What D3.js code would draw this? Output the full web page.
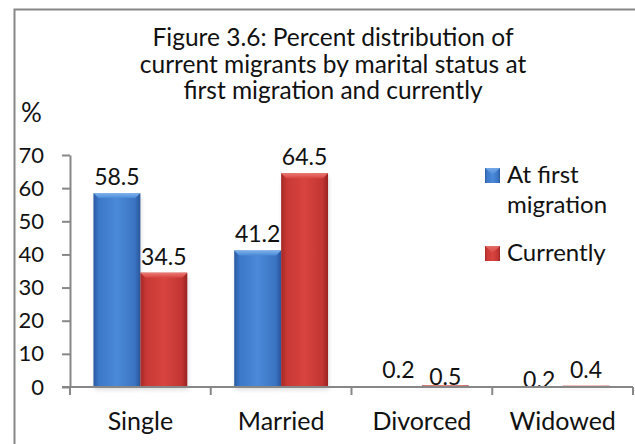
<!DOCTYPE html>
<html>
<head>
<meta charset="utf-8">
<script src="https://cdn.jsdelivr.net/npm/d3@7"></script>
<style>
  body { margin: 0; background: #fff; }
  #chart { width: 635px; height: 444px; }
  text { font-family: Lato, "Open Sans", sans-serif; fill: #111; }
</style>
</head>
<body>
<div id="chart"></div>
<script>
// chart values
var categories = ["Single", "Married", "Divorced", "Widowed"];
var seriesNames = ["At first migration", "Currently"];
var atFirstMigration = [58.5, 41.2, 0.2, 0.2];
var currently = [34.5, 64.5, 0.5, 0.4];
var yTicks = [0, 10, 20, 30, 40, 50, 60, 70];
var titleLines = [
    "Figure 3.6: Percent distribution of",
    "current migrants by marital status at",
    "first migration and currently"
];

// small vertical shifts of the value labels, as placed in the original
var labelNudge = [[0, 0], [0, 0], [0, 8], [10, 0]];

var width = 635;
var height = 444;
var margin = {top: 155, left: 70, right: 2, bottom: 57};

var svg = d3.select("#chart")
    .append("svg")
    .attr("width", width)
    .attr("height", height);

// gradients for the bevelled bars
var defs = svg.append("defs");
var palettes = {
    blue: ["#2a5aa2", "#3c78c8", "#4a8ad8", "#3a74c2", "#28559a"],
    red:  ["#a22826", "#c83835", "#d8443f", "#c23532", "#982322"]
};
Object.keys(palettes).forEach(function(k) {
    var g = defs.append("linearGradient").attr("id", "grad-" + k)
        .attr("x1", 0).attr("x2", 1).attr("y1", 0).attr("y2", 0);
    [0, 0.12, 0.5, 0.88, 1].forEach(function(o, i) {
        g.append("stop").attr("offset", o).attr("stop-color", palettes[k][i]);
    });
});
var tops = {blue: "#7fb2ec", red: "#ea7a74"};
Object.keys(tops).forEach(function(k) {
    var g = defs.append("linearGradient").attr("id", "top-" + k)
        .attr("x1", 0).attr("x2", 0).attr("y1", 0).attr("y2", 1);
    g.append("stop").attr("offset", 0).attr("stop-color", tops[k]);
    g.append("stop").attr("offset", 1).attr("stop-color", palettes[k][2]);
});
var shadow = defs.append("filter").attr("id", "blur")
    .attr("x", "-20%").attr("y", "-20%").attr("width", "140%").attr("height", "140%");
shadow.append("feGaussianBlur").attr("stdDeviation", 2);

// outer frame (right and bottom edges fall outside the picture)
svg.append("rect")
    .attr("x", 14.5).attr("y", 9.5)
    .attr("width", 640).attr("height", 460)
    .attr("fill", "none")
    .attr("stroke", "#878787")
    .attr("stroke-width", 2);

var data = categories.map(function(c, i) {
    return {category: c, values: [
        {series: seriesNames[0], key: "blue", value: atFirstMigration[i], nudge: labelNudge[i][0]},
        {series: seriesNames[1], key: "red", value: currently[i], nudge: labelNudge[i][1]}
    ]};
});

var xScale = d3.scaleBand()
    .domain(categories)
    .range([margin.left, width - margin.right]);

var bw = xScale.bandwidth();
var xInner = d3.scaleBand()
    .domain(seriesNames)
    .range([bw / 6, bw * 5 / 6]);

var yScale = d3.scaleLinear()
    .domain([0, 70])
    .range([height - margin.bottom, margin.top]);

// y axis
var yAxis = svg.append("g")
    .attr("transform", `translate(${margin.left},0)`)
    .call(d3.axisLeft(yScale).tickValues(yTicks).tickSize(8).tickSizeOuter(0).tickPadding(18));
yAxis.selectAll("path, line").attr("stroke", "#878787").attr("stroke-width", 2);
yAxis.selectAll("text")
    .style("font-family", "Lato, sans-serif")
    .style("font-size", "22px")
    .attr("fill", "#111");

// bars
var groups = svg.selectAll(".cat")
    .data(data)
    .enter()
    .append("g")
    .attr("class", "cat")
    .attr("transform", function(d) { return `translate(${xScale(d.category)},0)`; });

groups.selectAll(".shadow")
    .data(function(d) { return d.values; })
    .enter()
    .append("rect")
    .attr("x", function(d) { return xInner(d.series) + 1; })
    .attr("y", function(d) { return yScale(d.value) + 3; })
    .attr("width", xInner.bandwidth())
    .attr("height", function(d) { return yScale(0) - yScale(d.value); })
    .attr("fill", "#000")
    .attr("opacity", 0.12)
    .attr("filter", "url(#blur)");

groups.selectAll(".bar")
    .data(function(d) { return d.values; })
    .enter()
    .append("rect")
    .attr("class", "bar")
    .attr("x", function(d) { return xInner(d.series); })
    .attr("y", function(d) { return yScale(d.value); })
    .attr("width", xInner.bandwidth())
    .attr("height", function(d) { return yScale(0) - yScale(d.value); })
    .attr("fill", function(d) { return "url(#grad-" + d.key + ")"; });

// bevel on the top of each bar
groups.selectAll(".bevel")
    .data(function(d) { return d.values.filter(function(v) { return yScale(0) - yScale(v.value) > 6; }); })
    .enter()
    .append("path")
    .attr("d", function(d) {
        var x0 = xInner(d.series), x1 = x0 + xInner.bandwidth(), y0 = yScale(d.value);
        return `M${x0},${y0}L${x1},${y0}L${x1 - 5},${y0 + 5}L${x0 + 5},${y0 + 5}Z`;
    })
    .attr("fill", function(d) { return "url(#top-" + d.key + ")"; });

// value labels
groups.selectAll(".val")
    .data(function(d) { return d.values; })
    .enter()
    .append("text")
    .attr("x", function(d) { return xInner(d.series) + xInner.bandwidth() / 2; })
    .attr("y", function(d) { return yScale(d.value) - 8 + d.nudge; })
    .attr("text-anchor", "middle")
    .style("font-size", "23px")
    .text(function(d) { return d.value; });

// x axis
var xAxis = svg.append("g")
    .attr("transform", `translate(0,${yScale(0)})`)
    .call(d3.axisBottom(xScale).tickSize(0).tickPadding(25));
xAxis.select(".domain").attr("stroke", "#878787").attr("stroke-width", 2)
    .attr("d", `M${margin.left - 8},0H${width - margin.right}`);
xAxis.selectAll("text")
    .style("font-family", "Lato, sans-serif")
    .style("font-size", "25px")
    .attr("fill", "#111");

var bounds = categories.map(function(c) { return xScale(c); }).concat([xScale.range()[1]]);
xAxis.selectAll(".bound")
    .data(bounds)
    .enter()
    .append("line")
    .attr("x1", function(d) { return d; })
    .attr("x2", function(d) { return d; })
    .attr("y1", 0)
    .attr("y2", 8)
    .attr("stroke", "#878787")
    .attr("stroke-width", 2);

// title
svg.append("g").selectAll("text")
    .data(titleLines)
    .enter()
    .append("text")
    .attr("x", 333)
    .attr("y", function(d, i) { return 46 + i * 26.5; })
    .attr("text-anchor", "middle")
    .style("font-size", "24.5px")
    .text(function(d) { return d; });

svg.append("text")
    .attr("x", 21)
    .attr("y", 122)
    .style("font-size", "26px")
    .text("%");

// legend
var legend = svg.append("g")
    .attr("transform", "translate(485,0)");
var legendItems = [
    {key: "blue", lines: ["At first", "migration"], y: 168},
    {key: "red", lines: ["Currently"], y: 246}
];
legendItems.forEach(function(item, i) {
    legend.append("rect")
        .attr("x", 0).attr("y", item.y)
        .attr("width", 15).attr("height", 15)
        .attr("fill", "url(#grad-" + item.key + ")");
    legend.append("path")
        .attr("d", `M0,${item.y}L15,${item.y}L7.5,${item.y + 7}Z`)
        .attr("fill", "url(#top-" + item.key + ")")
        .attr("opacity", 0.8);
    item.lines.forEach(function(t, j) {
        legend.append("text")
            .attr("x", 22)
            .attr("y", item.y + 15 + j * 30)
            .style("font-size", "24px")
            .text(t);
    });
});
</script>
</body>
</html>
